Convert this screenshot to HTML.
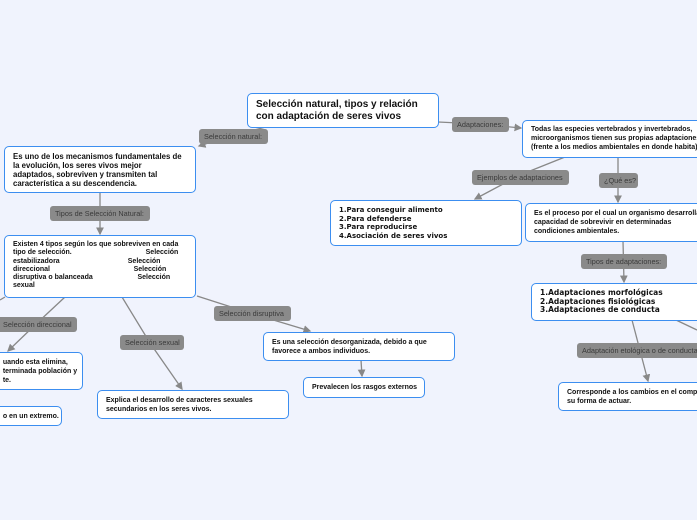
<!DOCTYPE html>
<html><head><meta charset="utf-8"><style>
body{margin:0;width:697px;height:520px;overflow:hidden;background:#f0f3fd;font-family:"Liberation Sans",sans-serif;position:relative}
.b{position:absolute;background:#fff;border:1.5px solid #3c8ef0;border-radius:5px;box-sizing:border-box;font-weight:bold;font-size:7px;line-height:9px;color:#111;padding:5px 8px;white-space:nowrap;overflow:hidden}
.l{position:absolute;background:#8a8a8a;border-radius:3px;color:#3a3a3a;font-size:7.3px;line-height:15px;height:15px;padding:0 5px;box-sizing:border-box;white-space:nowrap;overflow:hidden}
svg{position:absolute;left:0;top:0}
</style></head><body>
<svg width="697" height="520">
<defs><marker id="a" markerWidth="6" markerHeight="6" refX="5" refY="3" orient="auto"><path d="M0,0L6,3L0,6z" fill="#888"/></marker></defs>
<g stroke="#888" stroke-width="1.3" fill="none">
<path d="M270,126 L230,136 L199,146" marker-end="url(#a)"/>
<path d="M100,192 L100,234" marker-end="url(#a)"/>
<path d="M438,122 L480,124 L521,128" marker-end="url(#a)"/>
<path d="M565,157 L520,175 L475,199" marker-end="url(#a)"/>
<path d="M618,157 L618,202" marker-end="url(#a)"/>
<path d="M623,241 L624,282" marker-end="url(#a)"/>
<path d="M632,320 L648,381" marker-end="url(#a)"/>
<path d="M676,320 L697,330"/>
<path d="M65,297 L35,325 L8,351" marker-end="url(#a)"/>
<path d="M122,297 L150,343 L182,389" marker-end="url(#a)"/>
<path d="M197,296 L250,313 L310,331" marker-end="url(#a)"/>
<path d="M361,360 L362,376" marker-end="url(#a)"/>
<path d="M5,297 L0,300"/>
</g></svg>

<div class="b" style="left:247px;top:93px;width:192px;height:35px;font-size:10px;line-height:12px;padding:5px 8px">Selección natural, tipos y relación<br>con adaptación de seres vivos</div>
<div class="l" style="left:199px;top:129px;width:69px">Selección natural:</div>
<div class="b" style="left:4px;top:146px;width:192px;height:47px;font-size:7.8px">Es uno de los mecanismos fundamentales de<br>la evolución, los seres vivos mejor<br>adaptados, sobreviven y transmiten tal<br>característica a su descendencia.</div>
<div class="l" style="left:50px;top:206px;width:100px">Tipos de Selección Natural:</div>
<div class="b" style="left:4px;top:235px;width:192px;height:63px;font-size:7px;line-height:8.3px">Existen 4 tipos según los que sobreviven en cada<br>tipo de selección.&nbsp;&nbsp;&nbsp;&nbsp;&nbsp;&nbsp;&nbsp;&nbsp;&nbsp;&nbsp;&nbsp;&nbsp;&nbsp;&nbsp;&nbsp;&nbsp;&nbsp;&nbsp;&nbsp;&nbsp;&nbsp;&nbsp;&nbsp;&nbsp;&nbsp;&nbsp;&nbsp;&nbsp;&nbsp;&nbsp;&nbsp;&nbsp;&nbsp;&nbsp;&nbsp;&nbsp;&nbsp;&nbsp;Selección<br>estabilizadora&nbsp;&nbsp;&nbsp;&nbsp;&nbsp;&nbsp;&nbsp;&nbsp;&nbsp;&nbsp;&nbsp;&nbsp;&nbsp;&nbsp;&nbsp;&nbsp;&nbsp;&nbsp;&nbsp;&nbsp;&nbsp;&nbsp;&nbsp;&nbsp;&nbsp;&nbsp;&nbsp;&nbsp;&nbsp;&nbsp;&nbsp;&nbsp;&nbsp;&nbsp;&nbsp;Selección<br>direccional&nbsp;&nbsp;&nbsp;&nbsp;&nbsp;&nbsp;&nbsp;&nbsp;&nbsp;&nbsp;&nbsp;&nbsp;&nbsp;&nbsp;&nbsp;&nbsp;&nbsp;&nbsp;&nbsp;&nbsp;&nbsp;&nbsp;&nbsp;&nbsp;&nbsp;&nbsp;&nbsp;&nbsp;&nbsp;&nbsp;&nbsp;&nbsp;&nbsp;&nbsp;&nbsp;&nbsp;&nbsp;&nbsp;&nbsp;&nbsp;&nbsp;&nbsp;&nbsp;Selección<br>disruptiva o balanceada&nbsp;&nbsp;&nbsp;&nbsp;&nbsp;&nbsp;&nbsp;&nbsp;&nbsp;&nbsp;&nbsp;&nbsp;&nbsp;&nbsp;&nbsp;&nbsp;&nbsp;&nbsp;&nbsp;&nbsp;&nbsp;&nbsp;&nbsp;Selección<br>sexual</div>
<div class="l" style="left:-4px;top:317px;width:81px">&nbsp;Selección direccional</div>
<div class="b" style="left:-12px;top:352px;width:95px;height:38px">&nbsp;&nbsp;&nbsp;uando esta elimina,<br>&nbsp;&nbsp;&nbsp;terminada población y<br>&nbsp;&nbsp;&nbsp;te.</div>
<div class="b" style="left:-12px;top:406px;width:74px;height:20px">&nbsp;&nbsp;&nbsp;o en un extremo.</div>
<div class="l" style="left:120px;top:335px;width:64px">Selección sexual</div>
<div class="b" style="left:97px;top:390px;width:192px;height:29px">Explica el desarrollo de caracteres sexuales<br>secundarios en los seres vivos.</div>
<div class="l" style="left:214px;top:306px;width:77px">Selección disruptiva</div>
<div class="b" style="left:263px;top:332px;width:192px;height:29px">Es una selección desorganizada, debido a que<br>favorece a ambos individuos.</div>
<div class="b" style="left:303px;top:377px;width:122px;height:21px">Prevalecen los rasgos externos</div>
<div class="l" style="left:452px;top:117px;width:57px">Adaptaciones:</div>
<div class="b" style="left:522px;top:120px;width:185px;height:38px;padding:4px 8px">Todas las especies vertebrados y invertebrados,<br>microorganismos tienen sus propias adaptaciones<br>(frente a los medios ambientales en donde habita).</div>
<div class="l" style="left:472px;top:170px;width:97px">Ejemplos de adaptaciones</div>
<div class="b" style="left:330px;top:200px;width:192px;height:46px;font-family:'DejaVu Sans',sans-serif;font-size:7px;line-height:8.5px;padding:5px 8px">1.Para conseguir alimento<br>2.Para defenderse<br>3.Para reproducirse<br>4.Asociación de seres vivos</div>
<div class="l" style="left:599px;top:173px;width:39px">¿Qué es?</div>
<div class="b" style="left:525px;top:203px;width:180px;height:39px">Es el proceso por el cual un organismo desarrolla<br>capacidad de sobrevivir en determinadas<br>condiciones ambientales.</div>
<div class="l" style="left:581px;top:254px;width:86px">Tipos de adaptaciones:</div>
<div class="b" style="left:531px;top:283px;width:175px;height:38px;font-family:'DejaVu Sans',sans-serif;font-size:7.5px;line-height:8.7px;padding:5px 8px">1.Adaptaciones morfológicas<br>2.Adaptaciones fisiológicas<br>3.Adaptaciones de conducta</div>
<div class="l" style="left:577px;top:343px;width:125px">Adaptación etológica o de conducta</div>
<div class="b" style="left:558px;top:382px;width:150px;height:29px">Corresponde a los cambios en el comportamiento,<br>su forma de actuar.</div>
</body></html>
